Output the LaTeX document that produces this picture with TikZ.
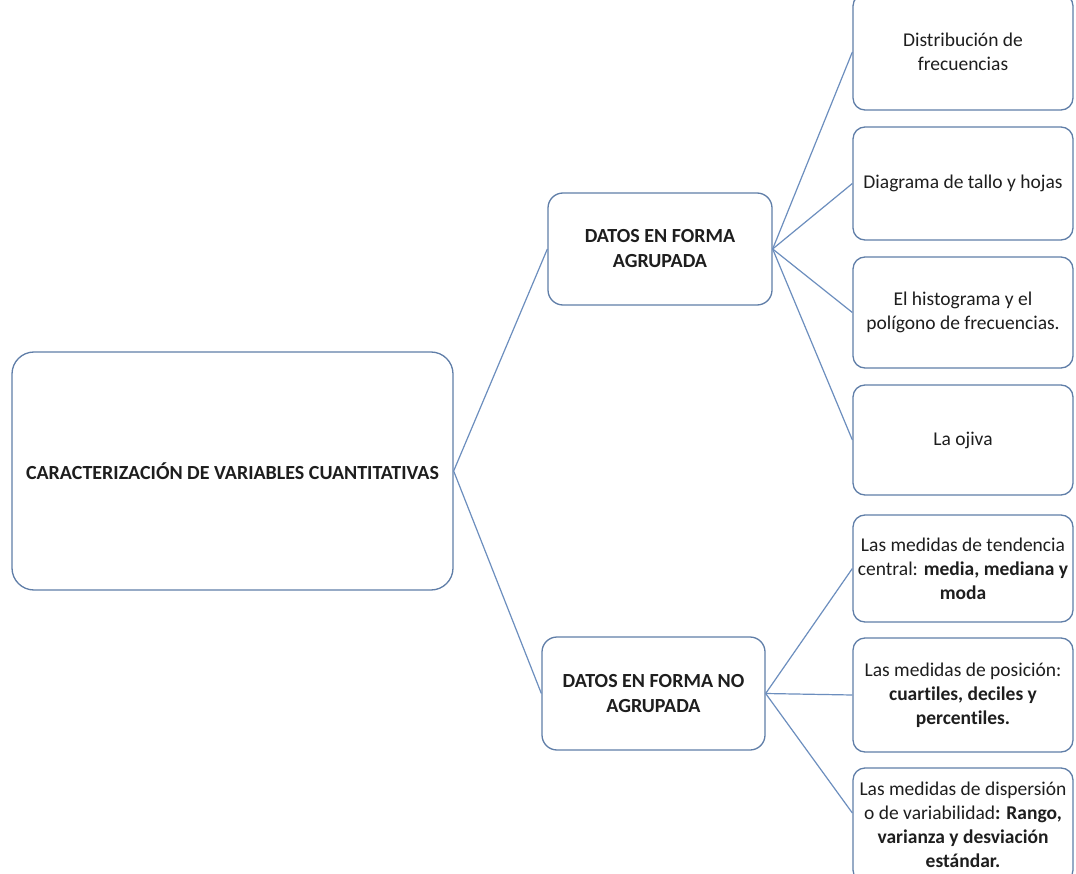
\documentclass[tikz,border=0pt]{standalone}
\usepackage{fontspec}
\setmainfont{Carlito}[Ligatures=NoCommon]
\definecolor{boxline}{RGB}{96,126,168}
\definecolor{conline}{RGB}{108,142,190}
\definecolor{txt}{RGB}{30,30,30}
\begin{document}
\begin{tikzpicture}[x=1pt,y=-1pt,
  box/.style={draw=boxline,line width=1.3pt,fill=white,rounded corners=12pt,
    align=center,text=txt,inner sep=1pt,font=\fontsize{19.5}{24}\selectfont},
  midbox/.style={box,rounded corners=15pt,font=\bfseries\fontsize{20}{25}\selectfont},
  rootbox/.style={box,rounded corners=22pt,font=\bfseries\fontsize{20}{24}\selectfont},
  rbox/.style={box,minimum width=220pt},
  con/.style={draw=conline,line width=1.2pt}]
\useasboundingbox[fill=white] (0,0) rectangle (1076,874);
% nodes
\node[rootbox,minimum width=441pt,minimum height=238pt] (root) at (232.5,471) {CARACTERIZACIÓN DE VARIABLES CUANTITATIVAS};
\node[midbox,minimum width=224pt,minimum height=112pt] (agr) at (660,249) {DATOS EN FORMA\\AGRUPADA};
\node[midbox,minimum width=223pt,minimum height=113pt] (noagr) at (653.5,693.5) {DATOS EN FORMA NO\\AGRUPADA};
\node[rbox,minimum height=116pt] (b1) at (963,52) {Distribución de\\frecuencias};
\node[rbox,minimum height=113pt] (b2) at (963,183.5) {Diagrama de tallo y hojas};
\node[rbox,minimum height=111pt] (b3) at (963,312.5) {El histograma y el\\polígono de frecuencias.};
\node[rbox,minimum height=110pt] (b4) at (963,440) {La ojiva};
\node[rbox,minimum height=107pt] (b5) at (963,568.5) {Las medidas de tendencia\\central: \textbf{media, mediana y}\\\textbf{moda}};
\node[rbox,minimum height=114pt] (b6) at (963,695) {Las medidas de posición:\\\textbf{cuartiles, deciles y}\\\textbf{percentiles.}};
\node[rbox,minimum height=114pt] (b7) at (963,825) {Las medidas de dispersión\\o de variabilidad\textbf{: Rango,}\\\textbf{varianza y desviación}\\\textbf{estándar.}};
\coordinate (b7in) at ([yshift=12pt]b7.west);
% connectors
\draw[con] (root.east) -- (agr.west);
\draw[con] (root.east) -- (noagr.west);
\draw[con] (agr.east) -- (b1.west);
\draw[con] (agr.east) -- (b2.west);
\draw[con] (agr.east) -- (b3.west);
\draw[con] (agr.east) -- (b4.west);
\draw[con] (noagr.east) -- (b5.west);
\draw[con] (noagr.east) -- (b6.west);
\draw[con] (noagr.east) -- (b7in);
\end{tikzpicture}
\end{document}
